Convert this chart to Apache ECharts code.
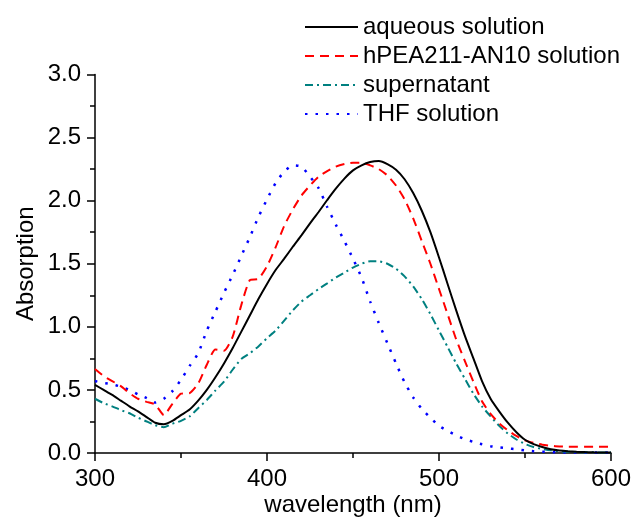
<!DOCTYPE html>
<html>
<head>
<meta charset="utf-8">
<script src="https://cdn.jsdelivr.net/npm/echarts@6/dist/echarts.min.js"></script>
<style>
  html, body { margin: 0; padding: 0; background: #fff; }
  #chart { width: 635px; height: 522px; }
</style>
</head>
<body>
<div id="chart"></div>
<script>
// wavelength grid, nm
var wavelength = [
  300, 305, 310, 315, 320, 325, 330, 335, 340, 345,
  350, 355, 360, 365, 370, 375, 380, 385, 390, 395,
  400, 405, 410, 415, 420, 425, 430, 435, 440, 445,
  450, 455, 460, 465, 470, 475, 480, 485, 490, 495,
  500, 505, 510, 515, 520, 525, 530, 535, 540, 545,
  550, 555, 560, 565, 570, 575, 580, 585, 590, 595, 600
];

var aqueous = [
  0.54, 0.50, 0.46, 0.415, 0.37, 0.33, 0.285, 0.24, 0.228, 0.255,
  0.30, 0.345, 0.415, 0.50, 0.60, 0.71, 0.83, 0.96, 1.09, 1.22,
  1.34, 1.45, 1.54, 1.635, 1.725, 1.82, 1.91, 2.005, 2.095, 2.175,
  2.24, 2.28, 2.306, 2.314, 2.29, 2.245, 2.17, 2.06, 1.92, 1.75,
  1.55, 1.34, 1.13, 0.93, 0.75, 0.57, 0.43, 0.33, 0.24, 0.165,
  0.105, 0.07, 0.047, 0.03, 0.02, 0.014, 0.01, 0.007, 0.005, 0.004, 0.003
];

var hpeaSolution = [
  0.666, 0.61, 0.57, 0.53, 0.475, 0.43, 0.405, 0.385, 0.30, 0.39,
  0.47, 0.475, 0.55, 0.70, 0.82, 0.81, 0.92, 1.17, 1.37, 1.38,
  1.48, 1.63, 1.80, 1.93, 2.04, 2.12, 2.19, 2.235, 2.27, 2.29,
  2.30, 2.30, 2.28, 2.25, 2.20, 2.12, 2.01, 1.86, 1.68, 1.50,
  1.30, 1.10, 0.90, 0.73, 0.565, 0.41, 0.31, 0.235, 0.18, 0.135,
  0.10, 0.08, 0.066, 0.057, 0.052, 0.05, 0.05, 0.05, 0.05, 0.05, 0.05
];

var supernatant = [
  0.43, 0.395, 0.37, 0.34, 0.315, 0.28, 0.25, 0.22, 0.205, 0.232,
  0.255, 0.29, 0.355, 0.42, 0.495, 0.565, 0.66, 0.745, 0.79, 0.845,
  0.91, 0.97, 1.05, 1.13, 1.20, 1.25, 1.30, 1.345, 1.39, 1.43,
  1.47, 1.50, 1.52, 1.52, 1.50, 1.46, 1.40, 1.32, 1.22, 1.10,
  0.97, 0.84, 0.71, 0.59, 0.47, 0.37, 0.29, 0.215, 0.155, 0.107,
  0.072, 0.047, 0.032, 0.021, 0.014, 0.01, 0.007, 0.006, 0.005, 0.004, 0.004
];

var thfSolution = [
  0.57, 0.555, 0.545, 0.525, 0.50, 0.465, 0.435, 0.40, 0.43, 0.49,
  0.58, 0.69, 0.79, 0.97, 1.12, 1.27, 1.41, 1.56, 1.71, 1.87,
  2.01, 2.14, 2.23, 2.28, 2.27, 2.19, 2.10, 1.95, 1.81, 1.68,
  1.54, 1.39, 1.20, 1.03, 0.87, 0.71, 0.56, 0.44, 0.35, 0.28,
  0.215, 0.175, 0.14, 0.11, 0.088, 0.069, 0.054, 0.044, 0.037, 0.03,
  0.02, 0.014, 0.01, 0.007, 0.005, 0.003, 0.003, 0.003, 0.003, 0.003, 0.003
];

var seriesNames = ["aqueous solution", "hPEA211-AN10 solution", "supernatant", "THF solution"];

function pairs(values) {
  return wavelength.map(function (w, i) { return [w, values[i]]; });
}

var font = "'Liberation Sans', Arial, sans-serif";
var fontSize = 24;

var chart = echarts.init(document.getElementById("chart"), null, { renderer: "canvas" });

var option = {
  animation: false,
  backgroundColor: "#fff",
  grid: { left: 95, right: 24, top: 74.5, bottom: 63.5 },
  legend: {
    orient: "vertical",
    left: 304,
    top: 15,
    padding: 0,
    itemWidth: 53,
    itemHeight: 14,
    itemGap: 5,
    itemStyle: { opacity: 0 },
    textStyle: { fontFamily: font, fontSize: fontSize, color: "#000" },
    data: seriesNames
  },
  xAxis: {
    type: "value",
    min: 300,
    max: 600,
    interval: 100,
    name: "wavelength (nm)",
    nameLocation: "middle",
    nameGap: 40,
    nameMoveOverlap: false,
    nameTextStyle: { fontFamily: font, fontSize: fontSize, color: "#000" },
    axisLine: { lineStyle: { color: "#000", width: 1.5 } },
    axisTick: { inside: false, length: 8, lineStyle: { color: "#000", width: 1.5 } },
    minorTick: { show: true, splitNumber: 2, length: 5, lineStyle: { color: "#000", width: 1.5 } },
    axisLabel: { margin: 14, fontFamily: font, fontSize: fontSize, color: "#000" },
    splitLine: { show: false }
  },
  yAxis: {
    type: "value",
    min: 0,
    max: 3,
    interval: 0.5,
    name: "Absorption",
    nameLocation: "middle",
    nameRotate: 90,
    nameGap: 57,
    nameMoveOverlap: false,
    nameTextStyle: { fontFamily: font, fontSize: fontSize, color: "#000" },
    axisLine: { show: true, lineStyle: { color: "#000", width: 1.5 } },
    axisTick: { show: true, inside: false, length: 8, lineStyle: { color: "#000", width: 1.5 } },
    minorTick: { show: true, splitNumber: 2, length: 5, lineStyle: { color: "#000", width: 1.5 } },
    axisLabel: {
      margin: 14,
      fontFamily: font,
      fontSize: fontSize,
      color: "#000",
      formatter: function (v) { return v.toFixed(1); }
    },
    splitLine: { show: false }
  },
  series: [
    {
      name: seriesNames[0],
      type: "line",
      data: pairs(aqueous),
      showSymbol: false,
      symbol: "none",
      smooth: 0.2,
      lineStyle: { color: "#000000", width: 2, type: "solid" },
      itemStyle: { color: "#000000" },
      z: 5
    },
    {
      name: seriesNames[1],
      type: "line",
      data: pairs(hpeaSolution),
      showSymbol: false,
      symbol: "none",
      smooth: 0.2,
      lineStyle: { color: "#ff0000", width: 2, type: [9, 6] },
      itemStyle: { color: "#ff0000" },
      z: 4
    },
    {
      name: seriesNames[2],
      type: "line",
      data: pairs(supernatant),
      showSymbol: false,
      symbol: "none",
      smooth: 0.2,
      lineStyle: { color: "#008080", width: 2, type: [8, 4, 2, 4] },
      itemStyle: { color: "#008080" },
      z: 3
    },
    {
      name: seriesNames[3],
      type: "line",
      data: pairs(thfSolution),
      showSymbol: false,
      symbol: "none",
      smooth: 0.2,
      lineStyle: { color: "#0000ff", width: 2.5, type: [2.5, 8] },
      itemStyle: { color: "#0000ff" },
      z: 2
    }
  ]
};

chart.setOption(option);
</script>
</body>
</html>
